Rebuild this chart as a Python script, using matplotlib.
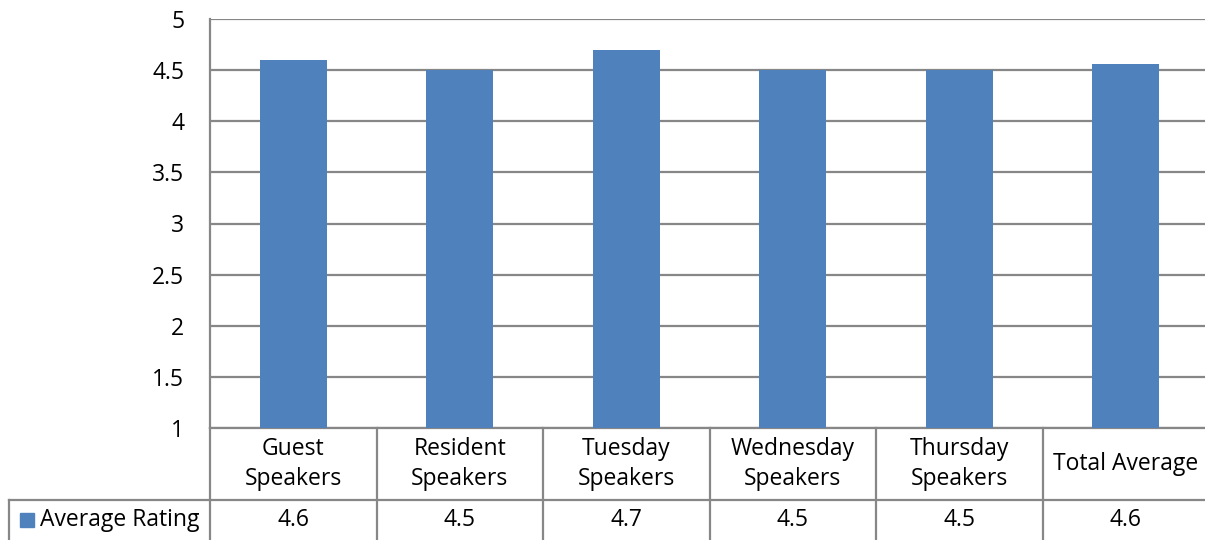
import matplotlib
matplotlib.use("Agg")
import matplotlib.pyplot as plt
import matplotlib.transforms as mtransforms
from matplotlib.patches import Rectangle

categories = ["Guest\nSpeakers", "Resident\nSpeakers", "Tuesday\nSpeakers",
              "Wednesday\nSpeakers", "Thursday\nSpeakers", "Total Average"]
ratings = [4.6, 4.5, 4.7, 4.5, 4.5, 4.56]
table_labels = ["4.6", "4.5", "4.7", "4.5", "4.5", "4.6"]
series_name = "Average Rating"

bar_color = "#4F81BD"
grid_color = "#878787"
plt.rcParams["font.family"] = ["Open Sans", "DejaVu Sans"]
fs = 16.5

W, H = 1205, 540
fig = plt.figure(figsize=(W / 100, H / 100), dpi=100)

# plot area in pixel coords: x 210..1209, y 19..428 (from top)
left, right, top, bottom = 210, 1209, 19, 428
ax = fig.add_axes([left / W, (H - bottom) / H, (right - left) / W, (bottom - top) / H])

x = range(len(categories))
ax.bar(x, [r - 1 for r in ratings], bottom=1, width=0.4, color=bar_color, zorder=3)
ax.set_xlim(-0.5, len(categories) - 0.5)
ax.set_ylim(1, 5)
ax.set_yticks([1, 1.5, 2, 2.5, 3, 3.5, 4, 4.5, 5])
ax.set_yticklabels(["1", "1.5", "2", "2.5", "3", "3.5", "4", "4.5", "5"], fontsize=fs)
ax.tick_params(axis="y", length=0, pad=18.5)
ax.set_xticks([])
ax.grid(axis="y", color=grid_color, linewidth=1.6, zorder=0)
for s in ["top", "right", "bottom"]:
    ax.spines[s].set_visible(False)
ax.spines["left"].set_color(grid_color)
ax.spines["left"].set_linewidth(1.6)

# data table below the plot
ph = bottom - top
trans = mtransforms.blended_transform_factory(ax.transData, ax.transAxes)
row1 = -(500 - bottom) / ph
row2 = -(H + 5 - bottom) / ph
lw = 1.6

ax.plot([-0.5, len(categories) - 0.5], [0, 0], transform=trans, color=grid_color,
        lw=lw, clip_on=False)
for i in range(len(categories) + 1):
    ax.plot([i - 0.5, i - 0.5], [0, row2], transform=trans, color=grid_color,
            lw=lw, clip_on=False)
ax.plot([-0.5, len(categories) - 0.5], [row1, row1], transform=trans, color=grid_color,
        lw=lw, clip_on=False)

for i, (c, v) in enumerate(zip(categories, table_labels)):
    ax.text(i, row1 / 2, c, transform=trans, ha="center", va="center",
            fontsize=fs, linespacing=1.38)
    ax.text(i, (row1 + -(H - bottom) / ph) / 2, v, transform=trans, ha="center",
            va="center", fontsize=fs)

# legend cell on the left of the value row
fig.add_artist(plt.Line2D([9 / W, left / W], [(H - 500) / H, (H - 500) / H],
                          color=grid_color, lw=lw))
fig.add_artist(plt.Line2D([9 / W, 9 / W], [(H - 500) / H, 0],
                          color=grid_color, lw=lw))
fig.add_artist(Rectangle((20 / W, (H - 527) / H), 14 / W, 14 / H,
                         transform=fig.transFigure, color=bar_color))
fig.text(40 / W, (H - 520) / H, series_name, ha="left", va="center", fontsize=fs)

fig.savefig("out.png", dpi=100)
